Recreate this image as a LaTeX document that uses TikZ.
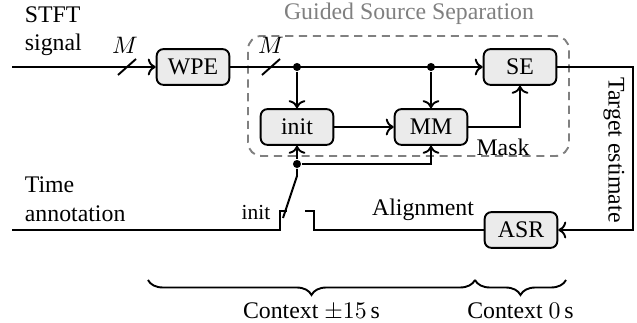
\documentclass[tikz,border=0pt]{standalone}
\usepackage{fontspec}
\setmainfont{Liberation Serif}
\usetikzlibrary{arrows.meta,calc,decorations.pathreplacing}

\begin{document}
\begin{tikzpicture}
  [
    x=0.42pt, y=0.42pt, >=To, thick,
    blk/.style={draw, rounded corners=2.8pt, fill=black!8, minimum width=30.5pt, minimum height=15pt},
    dot/.style={circle, fill, inner sep=1.2pt},
    brc/.style={decorate, decoration={brace, mirror, amplitude=6.3pt}}
  ]
  \useasboundingbox (0,0) rectangle (637,323);
  \node [draw, gray, dash pattern=on 3.4pt off 2.4pt, rounded corners=5.6pt, minimum width=134.8pt, minimum height=50.4pt] at (408.5, 227) (gss) {};
  \node [gray] at (409, 309) (gsstxt) {Guided Source Separation};
  \node [blk] at (193, 256) (wpe) {WPE};
  \node [blk] at (520, 256) (se) {SE};
  \node [blk] at (297, 196) (init) {init};
  \node [blk] at (431, 196) (mm) {MM};
  \node [blk] at (521, 93) (asr) {ASR};
  \node [dot] at (297, 256) (d1) {};
  \node [dot] at (431, 256) (d2) {};
  \node [dot] at (297, 159) (d3) {};
  \coordinate (in) at (12, 256);
  \coordinate (ta) at (12, 93);
  \node [anchor=west, align=left] at (16, 292) (stft) {STFT\\signal};
  \node [anchor=west, align=left] at (16, 124) (time) {Time\\annotation};
  \node at (125, 278) (m1) {$M$};
  \node at (271, 278) (m2) {$M$};
  \node [font=\small] at (256, 110) (initl) {init};
  \node at (503, 176) (mask) {Mask};
  \node at (423, 113) (align) {Alignment};
  \node [rotate=-90] at (614, 173) (tgt) {Target estimate};
  \draw [->] (in) -- (wpe);
  \draw [->] (wpe) -- (se);
  \draw [->] (d1) -- (init);
  \draw [->] (d2) -- (mm);
  \draw [->] (init) -- (mm);
  \draw [->] (mm) -| (se);
  \draw [->] (se.east) -- ++(76, 0) |- (asr);
  \draw [->] (d3) -- (init);
  \draw [->] (d3) -| (mm);
  \draw (118, 248) -- ++(18, 16);
  \draw (262, 248) -- ++(18, 16);
  \draw (ta) -| ++(268, 19) -- ++(7, 0);
  \draw (asr) -| ++(-207, 19) -- ++(-9, 0);
  \draw (d3) -- ++(0, -12) -- ++(-14, -42);
  \draw [brc] (148, 43) -- (475, 43) node [midway, below=6pt] (ctx1) {Context $\pm15\,$s};
  \draw [brc] (475, 43) -- (566, 43) node [midway, below=6pt] (ctx2) {Context $0\,$s};
\end{tikzpicture}
\end{document}
